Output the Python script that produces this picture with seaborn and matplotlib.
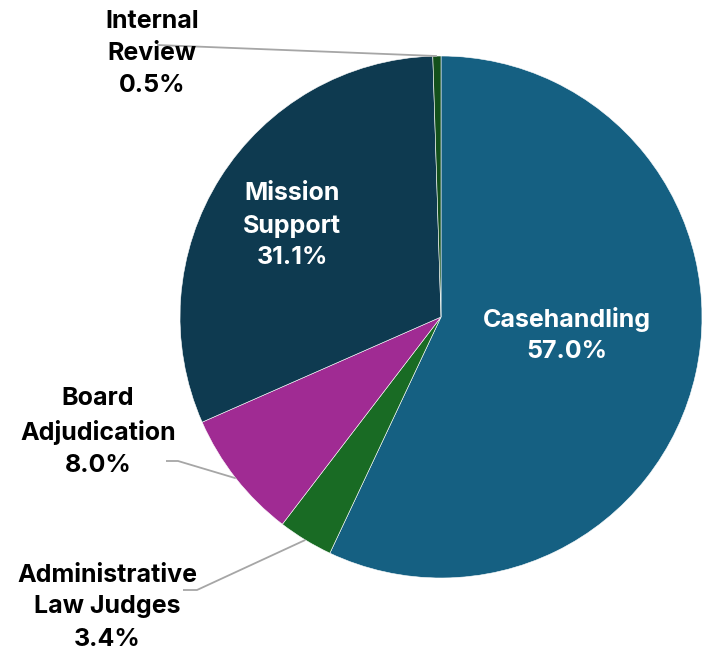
import matplotlib
matplotlib.use("Agg")
import matplotlib.pyplot as plt
import seaborn as sns
import numpy as np

categories = ["Casehandling", "Administrative\nLaw Judges", "Board\nAdjudication",
              "Mission\nSupport", "Internal\nReview"]
values = [57.0, 3.4, 8.0, 31.1, 0.5]
colors = ["#156082", "#196B24", "#A02B93", "#0E3A50", "#13501B"]

sns.set_theme(style="white")
plt.rcParams['font.family'] = ['Inter', 'DejaVu Sans']

W, H = 702, 649
fig = plt.figure(figsize=(W / 100, H / 100), dpi=100)
cx, cy, R = 441, 317, 261
ax = fig.add_axes([(cx - R) / W, (H - cy - R) / H, 2 * R / W, 2 * R / H])

wedges, _ = ax.pie(values, colors=colors, startangle=90, counterclock=False,
                   radius=1, center=(0, 0), frame=False,
                   wedgeprops=dict(edgecolor="white", linewidth=0.4))
ax.set_xlim(-1, 1)
ax.set_ylim(-1, 1)
ax.set_aspect("auto")
ax.axis("off")

def px(x, y):
    return ((x - cx) / R, (cy - y) / R)

fs = 18
# label placements (pixel centers) and optional elbow points
placements = {
    0: dict(pos=(567, 335), color="white", elbow=None),
    1: dict(pos=(107, 607), color="black", elbow=[(183, 590), (197, 590)]),
    2: dict(pos=(98, 432), color="black", elbow=[(166, 461), (178, 461)]),
    3: dict(pos=(292, 226), color="white", elbow=None),
    4: dict(pos=(152, 54), color="black", elbow=[(157, 45)]),
}
for i, (cat, v) in enumerate(zip(categories, values)):
    p = placements[i]
    x, y = px(*p["pos"])
    ax.text(x, y, f"{cat}\n{v:.1f}%", ha="center", va="center", color=p["color"],
            fontsize=fs, fontweight="bold", linespacing=1.5)
    if p["elbow"] is not None:
        w = wedges[i]
        ang = np.deg2rad((w.theta1 + w.theta2) / 2)
        ex, ey = np.cos(ang), np.sin(ang)
        pts = [px(*e) for e in p["elbow"]] + [(ex, ey)]
        xs, ys = zip(*pts)
        ax.plot(xs, ys, color="#A6A6A6", lw=1.3, solid_capstyle="butt", clip_on=False)

fig.savefig("out.png", dpi=100)
